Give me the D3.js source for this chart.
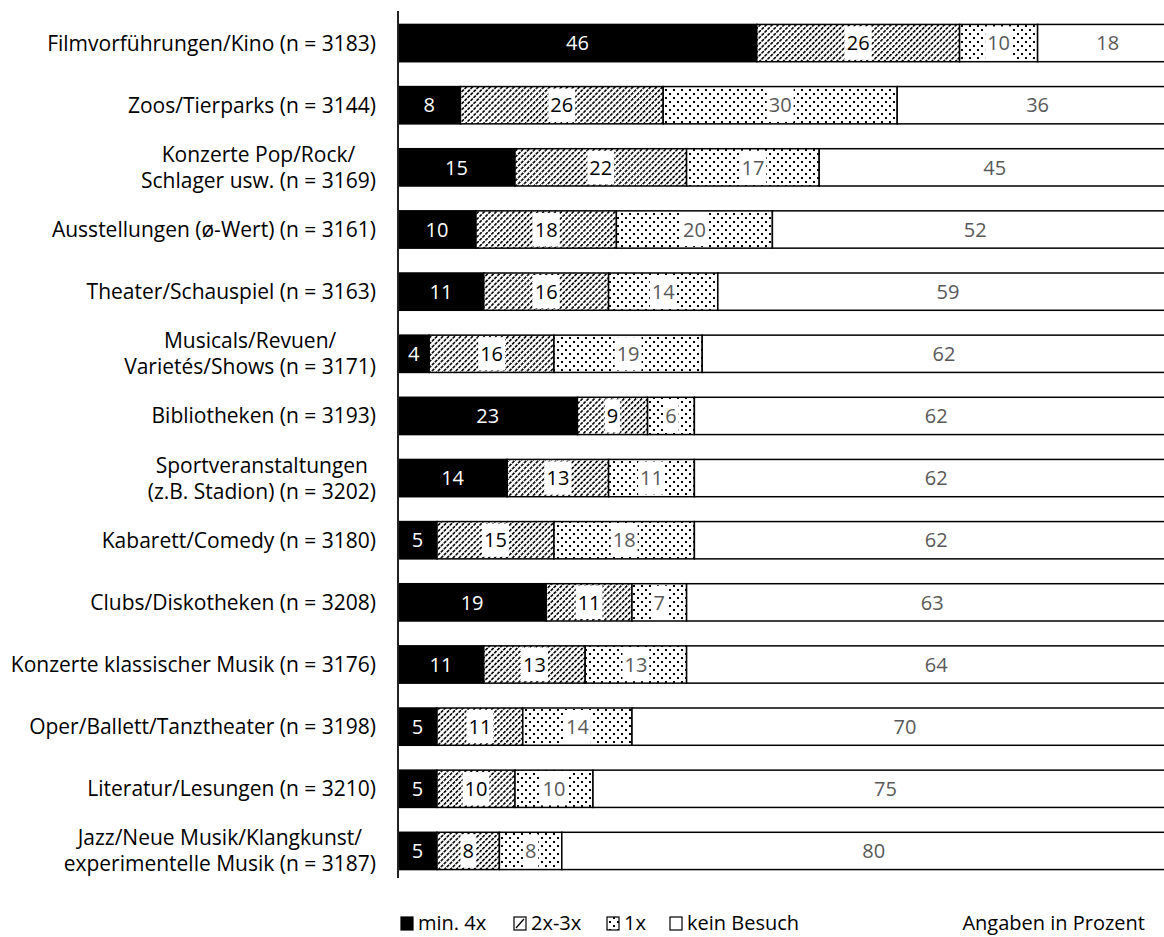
<!DOCTYPE html>
<html>
<head>
<meta charset="utf-8">
<script src="https://cdn.jsdelivr.net/npm/d3@7"></script>
<style>
  body { margin: 0; background: #fff; }
  svg { display: block; font-family: "Open Sans", Lato, sans-serif; }
</style>
</head>
<body>
<svg id="chart" width="1164" height="937"></svg>
<script>
// Besuchshäufigkeit Kultur-/Freizeitangebote, gestapelte Balken in Prozent

const categories = [
  ['Filmvorführungen/Kino (n = 3183)'],
  ['Zoos/Tierparks (n = 3144)'],
  ['Konzerte Pop/Rock/', 'Schlager usw. (n = 3169)'],
  ['Ausstellungen (ø-Wert) (n = 3161)'],
  ['Theater/Schauspiel (n = 3163)'],
  ['Musicals/Revuen/', 'Varietés/Shows (n = 3171)'],
  ['Bibliotheken (n = 3193)'],
  ['Sportveranstaltungen', '(z.B. Stadion) (n = 3202)'],
  ['Kabarett/Comedy (n = 3180)'],
  ['Clubs/Diskotheken (n = 3208)'],
  ['Konzerte klassischer Musik (n = 3176)'],
  ['Oper/Ballett/Tanztheater (n = 3198)'],
  ['Literatur/Lesungen (n = 3210)'],
  ['Jazz/Neue Musik/Klangkunst/', 'experimentelle Musik (n = 3187)']
];

const min4x    = [46, 8, 15, 10, 11, 4, 23, 14, 5, 19, 11, 5, 5, 5];
const twoThree = [26, 26, 22, 18, 16, 16, 9, 13, 15, 11, 13, 11, 10, 8];
const once     = [10, 30, 17, 20, 14, 19, 6, 11, 18, 7, 13, 14, 10, 8];
const noVisit  = [18, 36, 45, 52, 59, 62, 62, 62, 62, 63, 64, 70, 75, 80];

const seriesNames = ['min. 4x', '2x-3x', '1x', 'kein Besuch'];
const seriesValues = [min4x, twoThree, once, noVisit];

const svg = d3.select('#chart');
const defs = svg.append('defs');

// Schraffur für 2x-3x
const hatch = defs.append('pattern')
  .attr('id', 'hatch')
  .attr('patternUnits', 'userSpaceOnUse')
  .attr('width', 4.2)
  .attr('height', 4.2)
  .attr('patternTransform', 'rotate(45)');
hatch.append('rect').attr('width', 4.2).attr('height', 4.2).attr('fill', '#fff');
hatch.append('line')
  .attr('x1', 0.8).attr('y1', 0).attr('x2', 0.8).attr('y2', 4.2)
  .attr('stroke', '#000').attr('stroke-width', 1.6)
  .attr('stroke-dasharray', '3.2,1');

// Punkte für 1x
const dots = defs.append('pattern')
  .attr('id', 'dots')
  .attr('patternUnits', 'userSpaceOnUse')
  .attr('width', 8)
  .attr('height', 8);
dots.append('rect').attr('width', 8).attr('height', 8).attr('fill', '#fff');
dots.append('rect').attr('x', 1).attr('y', 1).attr('width', 2).attr('height', 2).attr('fill', '#000');
dots.append('rect').attr('x', 5).attr('y', 5).attr('width', 2).attr('height', 2).attr('fill', '#000');

const fills = ['#000', 'url(#hatch)', 'url(#dots)', '#fff'];
const labelColors = ['#fff', '#000', '#595959', '#595959'];

const axisX = 398;
const xScale = d3.scaleLinear().domain([0, 100]).range([axisX, axisX + 780]);

const yScale = d3.scaleBand()
  .domain(d3.range(categories.length))
  .range([12, 882])
  .paddingInner(0.4)
  .paddingOuter(0.2);

// gestapelte Daten
const rows = categories.map((c, i) => {
  let start = 0;
  return seriesValues.map((vals, s) => {
    const seg = { row: i, series: s, value: vals[i], x0: start, x1: start + vals[i] };
    start += vals[i];
    return seg;
  });
});
const segments = rows.flat();

const g = svg.append('g');

g.selectAll('.seg')
  .data(segments)
  .enter()
  .append('rect')
  .attr('class', 'seg')
  .attr('x', d => xScale(d.x0))
  .attr('y', d => yScale(d.row))
  .attr('width', d => xScale(d.x1) - xScale(d.x0))
  .attr('height', yScale.bandwidth())
  .attr('fill', d => fills[d.series])
  .attr('stroke', '#000')
  .attr('stroke-width', 1.5);

// Wertelabels
const labels = g.selectAll('.val')
  .data(segments)
  .enter()
  .append('g')
  .attr('class', 'val')
  .attr('transform', d => `translate(${(xScale(d.x0) + xScale(d.x1)) / 2},${yScale(d.row) + yScale.bandwidth() / 2})`);

labels.append('text')
  .attr('text-anchor', 'middle')
  .attr('dy', '0.36em')
  .attr('font-size', '20px')
  .attr('fill', d => labelColors[d.series])
  .text(d => d.value);

labels.each(function (d) {
  if (d.series !== 1 && d.series !== 2) return;
  const sel = d3.select(this);
  const w = sel.select('text').node().getComputedTextLength();
  sel.insert('rect', 'text')
    .attr('x', -w / 2 - 2)
    .attr('y', -yScale.bandwidth() / 2 + 2)
    .attr('width', w + 4)
    .attr('height', yScale.bandwidth() - 4)
    .attr('fill', '#fff');
});

// Achse
svg.append('line')
  .attr('x1', axisX).attr('x2', axisX)
  .attr('y1', 11).attr('y2', 878)
  .attr('stroke', '#222')
  .attr('stroke-width', 2);

// Kategorienbeschriftung
const labelRight = 376;
const lineHeight = 26;
categories.forEach((lines, i) => {
  const cy = yScale(i) + yScale.bandwidth() / 2;
  const t = svg.append('text')
    .attr('font-size', '21px')
    .attr('fill', '#000')
    .attr('text-anchor', 'middle');
  const spans = lines.map((line, k) => t.append('tspan')
    .attr('y', cy + (k - (lines.length - 1) / 2) * lineHeight)
    .attr('dy', '0.36em')
    .text(line));
  const maxW = d3.max(spans, s => s.node().getComputedTextLength());
  spans.forEach(s => s.attr('x', labelRight - maxW / 2));
});

// Legende
const legendY = 930;
const legendX = [400, 513, 606, 669];
const legend = svg.append('g');
seriesNames.forEach((name, s) => {
  legend.append('rect')
    .attr('x', legendX[s] + 1)
    .attr('y', legendY - 13)
    .attr('width', 12)
    .attr('height', 13)
    .attr('fill', s === 1 ? '#fff' : fills[s])
    .attr('stroke', '#000')
    .attr('stroke-width', 1.2);
  if (s === 1) {
    legend.append('line')
      .attr('x1', legendX[s] + 3).attr('y1', legendY - 2)
      .attr('x2', legendX[s] + 11).attr('y2', legendY - 11)
      .attr('stroke', '#000').attr('stroke-width', 1.3);
  }
  legend.append('text')
    .attr('x', legendX[s] + 18)
    .attr('y', legendY)
    .attr('font-size', '20px')
    .attr('fill', '#000')
    .text(name);
});

svg.append('text')
  .attr('x', 1145)
  .attr('y', legendY)
  .attr('text-anchor', 'end')
  .attr('font-size', '20px')
  .attr('fill', '#000')
  .text('Angaben in Prozent');
</script>
</body>
</html>
